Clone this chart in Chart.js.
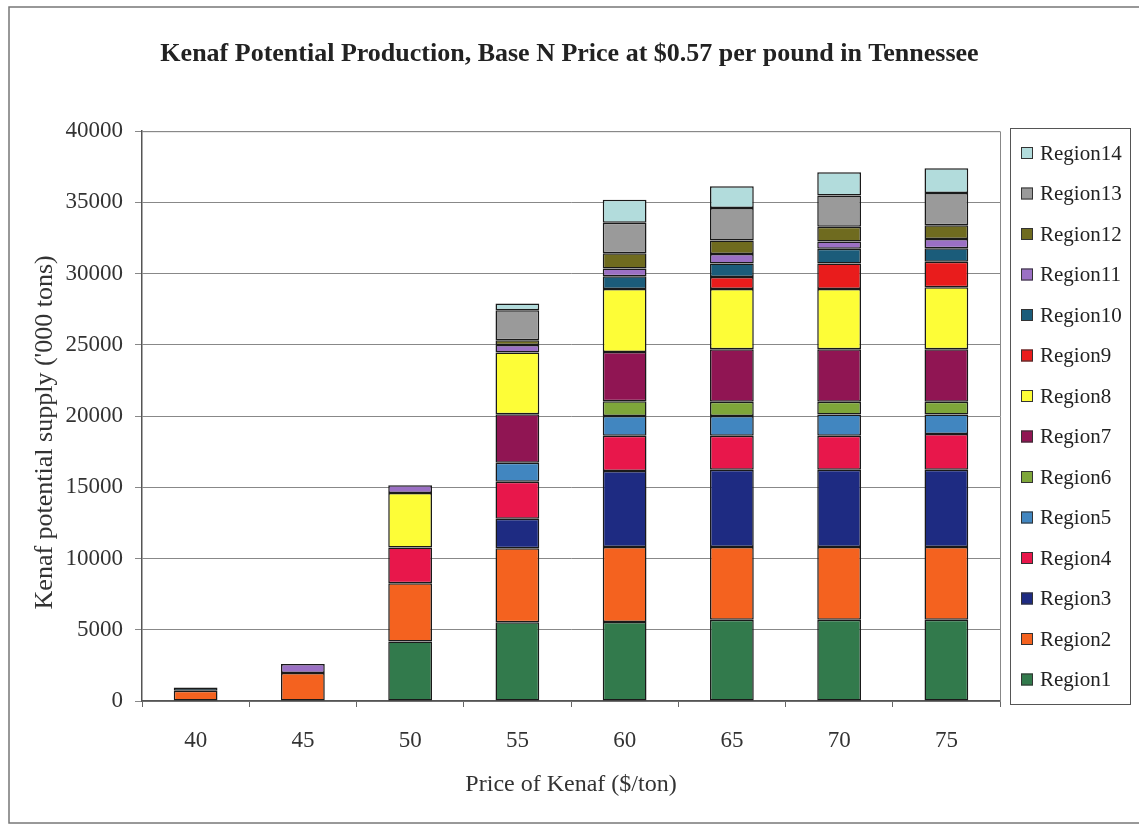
<!DOCTYPE html>
<html>
<head>
<meta charset="utf-8">
<script src="https://cdn.jsdelivr.net/npm/chart.js@4.4.1/dist/chart.umd.min.js"></script>
<style>
html,body{margin:0;padding:0;background:#fff;}
#wrap{width:1139px;height:825px;position:relative;}
</style>
</head>
<body>
<div id="wrap"><canvas id="c" width="1139" height="825"></canvas></div>
<script>
// ---- data ----
const categories = ['40', '45', '50', '55', '60', '65', '70', '75'];
const regionNames = ['Region1','Region2','Region3','Region4','Region5','Region6','Region7','Region8','Region9','Region10','Region11','Region12','Region13','Region14'];
const region1  = [null, null, 4180, 5530, 5550, 5710, 5710, 5710];
const region2  = [720, 1960, 4090, 5200, 5260, 5100, 5100, 5100];
const region3  = [null, null, null, 2060, 5330, 5430, 5430, 5430];
const region4  = [null, null, 2500, 2600, 2480, 2380, 2380, 2500];
const region5  = [null, null, null, 1340, 1380, 1380, 1500, 1380];
const region6  = [null, null, null, null, 1050, 1000, 880, 880];
const region7  = [null, null, null, 3400, 3450, 3690, 3690, 3690];
const region8  = [null, null, 3830, 4330, 4430, 4240, 4240, 4360];
const region9  = [null, null, null, null, null, 830, 1780, 1780];
const region10 = [230, null, null, null, 880, 950, 1030, 960];
const region11 = [null, 640, 540, 540, 550, 670, 520, 640];
const region12 = [null, null, null, 330, 1070, 950, 1030, 970];
const region13 = [null, null, null, 2100, 2140, 2270, 2190, 2270];
const region14 = [null, null, null, 470, 1620, 1540, 1630, 1730];
const yTicks = [0, 5000, 10000, 15000, 20000, 25000, 30000, 35000, 40000];

const seriesValues = [region1, region2, region3, region4, region5, region6, region7, region8, region9, region10, region11, region12, region13, region14];
const colors = ['#327a4c','#f4621f','#1e2b82','#e8174b','#4186c0','#7ea63a','#901553','#fdfd37','#e91c1c','#1b5c7a','#9b70c4','#6f6b1f','#9a9a9a','#b2dcdc'];

const FONT = '"Liberation Serif", "Times New Roman", serif';

const datasets = seriesValues.map((vals, i) => ({
  label: regionNames[i],
  data: vals,
  backgroundColor: colors[i],
  borderColor: '#1a1a1a',
  borderWidth: 1.5,
  borderSkipped: false,
  stack: 's',
  categoryPercentage: 0.8,
  barPercentage: 0.51
}));

const framePlugin = {
  id: 'frame',
  beforeDraw(chart) {
    const ctx = chart.ctx;
    ctx.save();
    ctx.fillStyle = '#fff';
    ctx.fillRect(0, 0, chart.width, chart.height);
    ctx.strokeStyle = '#777';
    ctx.lineWidth = 1.5;
    ctx.strokeRect(9, 7, 1145, 816);
    ctx.restore();
  },
  afterDatasetsDraw(chart) {
    const ctx = chart.ctx;
    const a = chart.chartArea;
    ctx.save();
    ctx.strokeStyle = '#888';
    ctx.lineWidth = 1;
    ctx.beginPath();
    ctx.moveTo(a.left, a.top + 0.5);
    ctx.lineTo(a.right + 0.5, a.top + 0.5);
    ctx.lineTo(a.right + 0.5, a.bottom);
    ctx.stroke();
    ctx.restore();
  },
  afterDraw(chart) {
    // legend box (reverse order, Region14 on top)
    const ctx = chart.ctx;
    ctx.save();
    ctx.strokeStyle = '#555';
    ctx.lineWidth = 1;
    ctx.strokeRect(1010.5, 128.5, 120, 576);
    ctx.font = '21px ' + FONT;
    ctx.textBaseline = 'middle';
    ctx.textAlign = 'left';
    const n = chart.data.datasets.length;
    for (let k = 0; k < n; k++) {
      const ds = chart.data.datasets[n - 1 - k];
      const y = 153 + k * 40.5;
      ctx.fillStyle = ds.backgroundColor;
      ctx.fillRect(1021, y - 6, 12, 12);
      ctx.strokeStyle = '#333';
      ctx.strokeRect(1021.5, y - 5.5, 11, 11);
      ctx.fillStyle = '#222';
      ctx.fillText(ds.label, 1040, y + 1);
    }
    ctx.restore();
  }
};

new Chart(document.getElementById('c'), {
  type: 'bar',
  data: { labels: categories, datasets },
  plugins: [framePlugin],
  options: {
    responsive: false,
    animation: false,
    devicePixelRatio: 1,
    layout: { padding: { left: 0, right: 0, top: 0, bottom: 0 } },
    plugins: {
      legend: { display: false },
      tooltip: { enabled: false },
      title: {
        display: true,
        text: 'Kenaf Potential Production, Base N Price at $0.57 per pound in Tennessee',
        color: '#222',
        font: { family: FONT, size: 26, weight: 'bold', lineHeight: 1.2 },
        padding: { top: 39, bottom: 61 }
      }
    },
    scales: {
      x: {
        stacked: true,
        offset: true,
        afterFit(scale) { scale.height = 124; },
        grid: { drawOnChartArea: false, drawTicks: true, tickLength: 6, color: '#666', offset: true },
        border: { color: '#555', width: 1.5 },
        ticks: { color: '#333', font: { family: FONT, size: 23 }, padding: 20 },
        title: {
          display: true,
          text: 'Price of Kenaf ($/ton)',
          color: '#333',
          font: { family: FONT, size: 24 },
          padding: { top: 0, bottom: 26 }
        }
      },
      y: {
        stacked: true,
        min: 0,
        max: 40000,
        afterFit(scale) { scale.width = 142; },
        afterBuildTicks(scale) { scale.ticks = yTicks.map(v => ({ value: v })); },
        grid: { color: '#888', lineWidth: 1, tickLength: 7 },
        border: { color: '#555', width: 1.5 },
        ticks: { color: '#333', font: { family: FONT, size: 23 }, padding: 12, callback: (v) => String(v) },
        title: {
          display: true,
          text: "Kenaf potential supply ('000 tons)     ",
          color: '#333',
          font: { family: FONT, size: 26 },
          padding: { top: 30, bottom: 0 }
        }
      },
      yRight: {
        position: 'right',
        min: 0,
        max: 40000,
        afterFit(scale) { scale.width = 139; },
        grid: { drawOnChartArea: false, drawTicks: false },
        border: { display: false },
        ticks: { display: false }
      }
    }
  }
});
</script>
</body>
</html>
